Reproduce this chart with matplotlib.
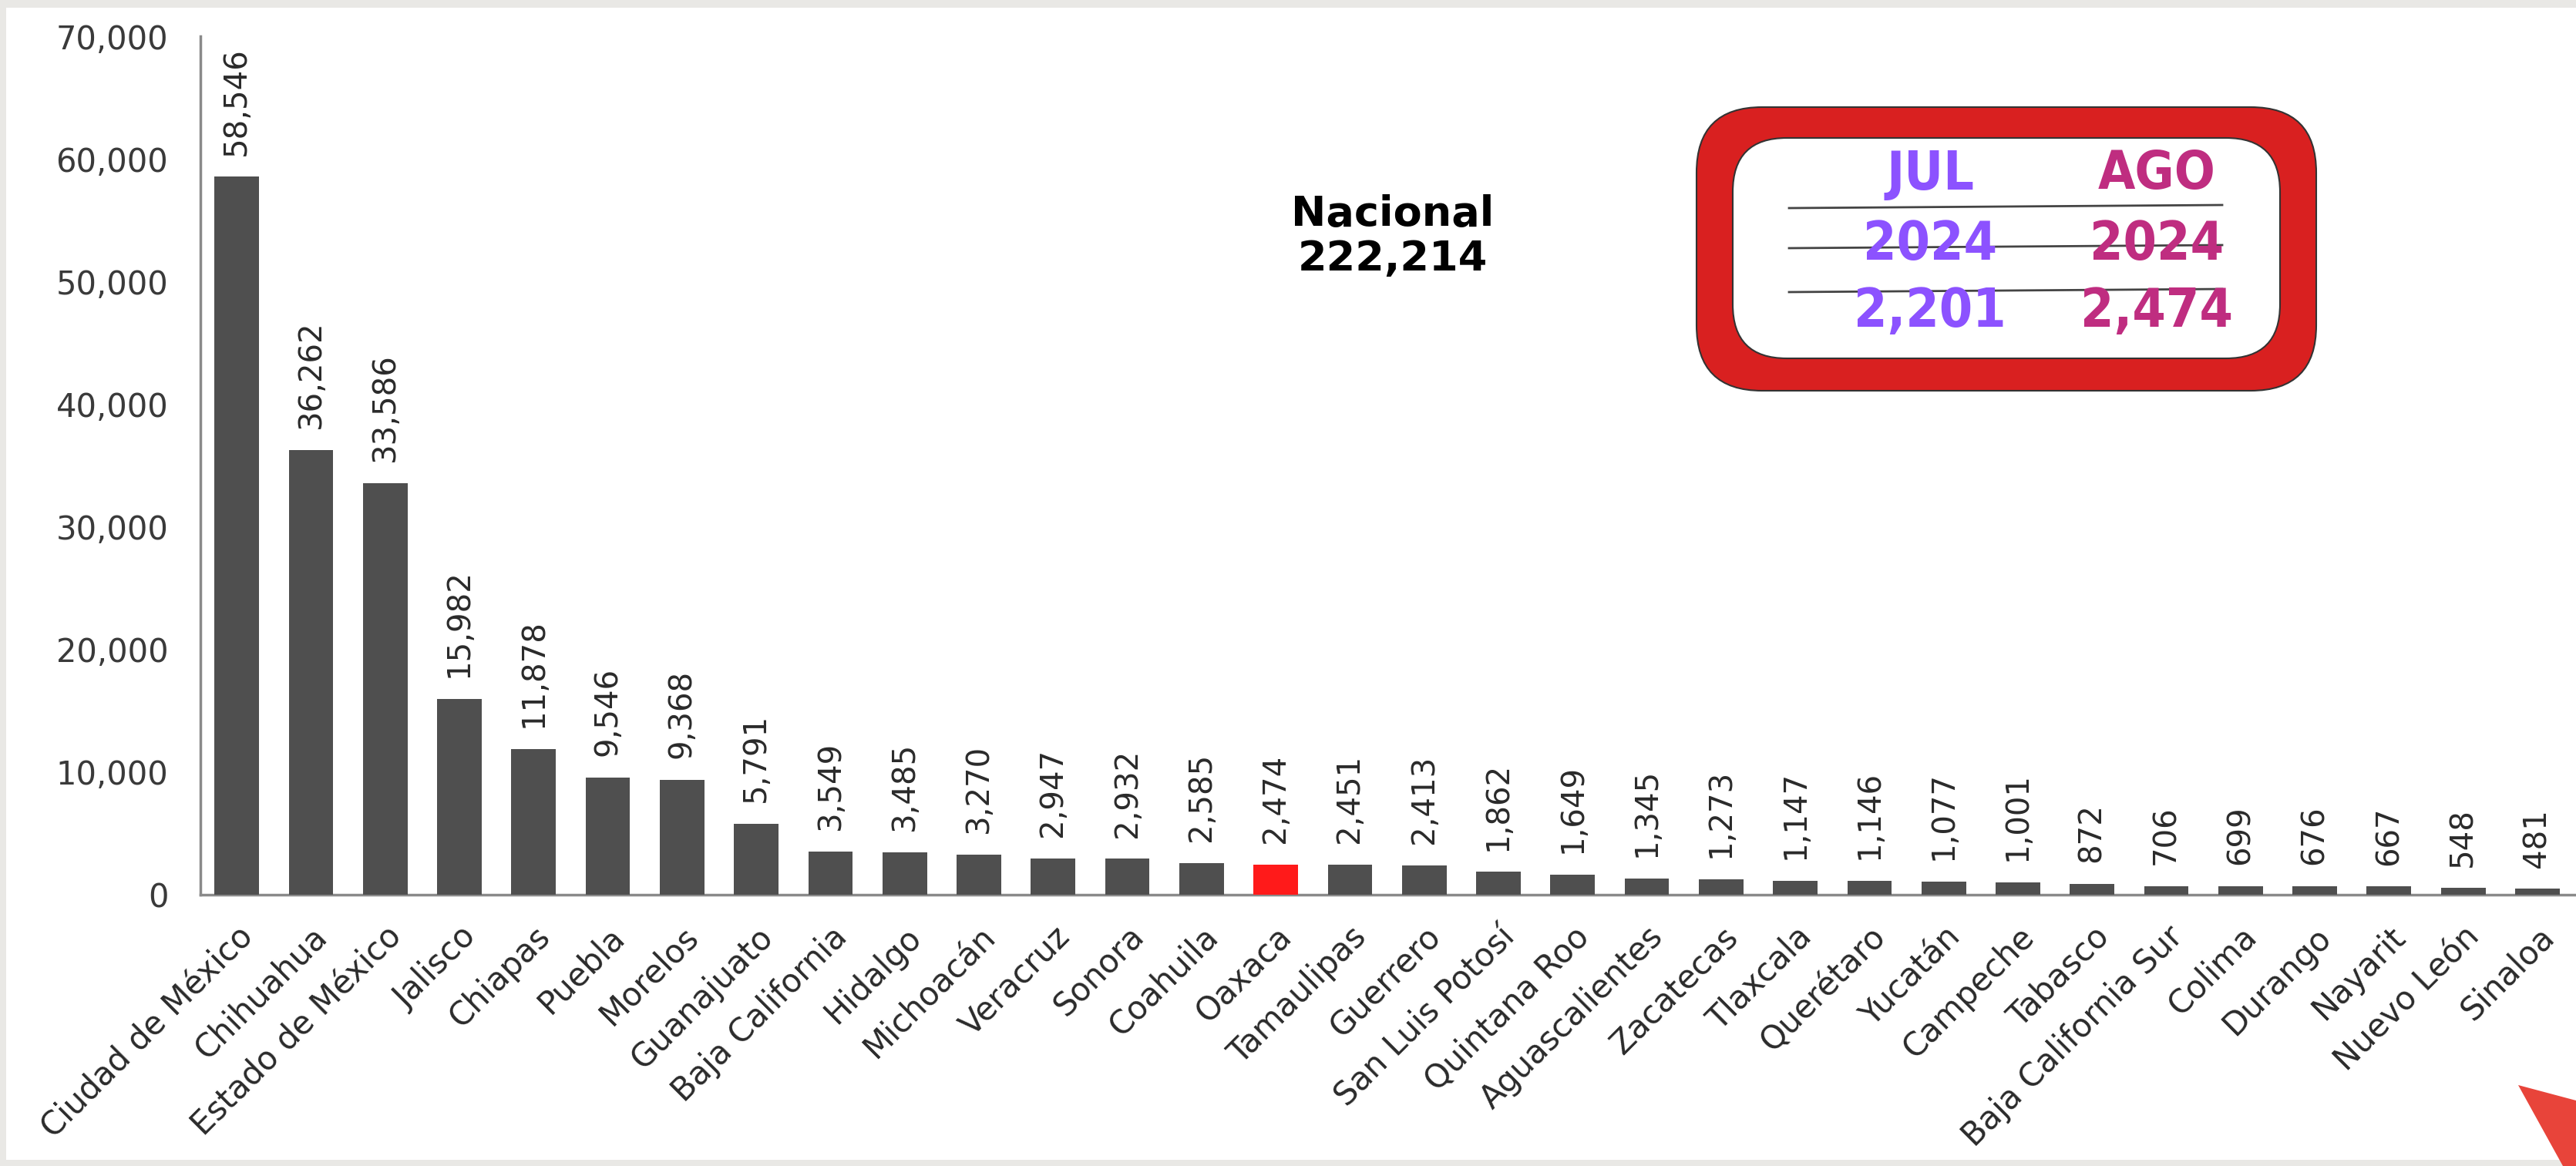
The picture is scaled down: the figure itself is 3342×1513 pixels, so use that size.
import matplotlib
matplotlib.use("Agg")
import matplotlib.pyplot as plt
from matplotlib import font_manager as fm
from matplotlib.patches import Rectangle, FancyBboxPatch, Polygon
from matplotlib.lines import Line2D

# ---------------- data ----------------
states = ["Ciudad de México", "Chihuahua", "Estado de México", "Jalisco", "Chiapas",
          "Puebla", "Morelos", "Guanajuato", "Baja California", "Hidalgo", "Michoacán",
          "Veracruz", "Sonora", "Coahuila", "Oaxaca", "Tamaulipas", "Guerrero",
          "San Luis Potosí", "Quintana Roo", "Aguascalientes", "Zacatecas", "Tlaxcala",
          "Querétaro", "Yucatán", "Campeche", "Tabasco", "Baja California Sur", "Colima",
          "Durango", "Nayarit", "Nuevo León", "Sinaloa"]
values = [58546, 36262, 33586, 15982, 11878, 9546, 9368, 5791, 3549, 3485, 3270,
          2947, 2932, 2585, 2474, 2451, 2413, 1862, 1649, 1345, 1273, 1147, 1146,
          1077, 1001, 872, 706, 699, 676, 667, 548, 481]
highlight = "Oaxaca"
yticks = [0, 10000, 20000, 30000, 40000, 50000, 60000, 70000]
national_label = "Nacional"
national_total = 222214
box_months = ["JUL", "AGO"]
box_years = ["2024", "2024"]
box_values = [2201, 2474]

# ---------------- condensed font lookup ----------------
cond = None
for f in fm.fontManager.ttflist:
    nm = f.name + " " + f.fname
    is_cond = ("Condensed" in nm or "Narrow" in nm or
               str(f.stretch) in ("condensed", "semi-condensed", "extra-condensed"))
    if is_cond and f.fname.lower().endswith((".ttf", ".otf")):
        score = 2 if ("Bold" in f.fname or str(f.weight) in ("700", "bold")) else 1
        if cond is None or score > cond[0]:
            cond = (score, f.fname)
if cond is not None:
    box_font = dict(fontproperties=fm.FontProperties(fname=cond[1], size=50))
else:
    box_font = dict(fontsize=46, fontweight="bold", family="DejaVu Sans")

# ---------------- figure ----------------
W, H = 3342, 1513
fig = plt.figure(figsize=(W / 100, H / 100), dpi=100)
fig.patch.set_facecolor("#e9e8e5")
inch = fig.dpi_scale_trans

# white panel
fig.patches.append(Rectangle((0.08, 0.08), (W - 8) / 100, (H - 18) / 100,
                             transform=inch, facecolor="white", edgecolor="none", zorder=-5))

ax = fig.add_axes([260 / W, 1 - 1161 / H, 1 - 260 / W, (1161 - 47) / H])
ax.set_zorder(1)
ax.set_facecolor("none")
x = list(range(len(states)))
colors = ["#ff1a1a" if s == highlight else "#4f4f4f" for s in states]
ax.bar(x, values, width=0.6, color=colors, zorder=3)
ax.set_xlim(-0.49, len(states) - 0.48)
ax.set_ylim(0, 70000)
ax.set_yticks(yticks)
ax.set_yticklabels([f"{v:,}" for v in yticks])
ax.set_xticks(x)
ax.set_xticklabels(states, rotation=45, ha="right", va="top", rotation_mode="anchor")
for sp in ["top", "right"]:
    ax.spines[sp].set_visible(False)
for sp in ["left", "bottom"]:
    ax.spines[sp].set_color("#8a8a8a")
    ax.spines[sp].set_linewidth(2.5)
ax.tick_params(axis="y", length=0, pad=30, labelsize=30, labelcolor="#3a3a3a")
ax.tick_params(axis="x", length=0, pad=24, labelsize=30, labelcolor="#2a2a2a")

for xi, v in zip(x, values):
    ax.annotate(f"{v:,}", (xi, v), xytext=(0, 20), textcoords="offset points",
                rotation=90, ha="center", va="bottom", fontsize=29, color="#2a2a2a")

# national total
fig.text(18.07, (H - 307) / 100, f"{national_label}\n{national_total:,}", transform=inch,
         ha="center", va="center", fontsize=39, fontweight="bold", color="black",
         linespacing=1.15, zorder=6)

# comparison box
fig.patches.append(FancyBboxPatch((22.01, 10.06), 30.05 - 22.01, 13.74 - 10.06,
                                  boxstyle="round,pad=0,rounding_size=0.85", transform=inch,
                                  facecolor="#d92020", edgecolor="#333333", lw=1.5, zorder=2))
fig.patches.append(FancyBboxPatch((22.48, 10.48), 29.58 - 22.48, 13.34 - 10.48,
                                  boxstyle="round,pad=0,rounding_size=0.7", transform=inch,
                                  facecolor="white", edgecolor="#333333", lw=1.5, zorder=3))
for y0 in [12.43, 11.91, 11.34]:
    fig.add_artist(Line2D([23.21, 28.83], [y0, y0 + 0.04], transform=inch,
                          color="#444444", lw=2, zorder=4))
col_x = [25.04, 27.98]
col_c = ["#8c52ff", "#bf2d80"]
for cx, c, m, yr, v in zip(col_x, col_c, box_months, box_years, box_values):
    for ty, s in [(12.87, m), (11.95, yr), (11.08, f"{v:,}")]:
        fig.text(cx, ty, s, transform=inch, ha="center", va="center", color=c,
                 zorder=5, **box_font)

# red decoration bottom right
fig.patches.append(Polygon([(32.67, (H - 1408) / 100), (33.42, (H - 1428) / 100),
                            (33.42, 0), (33.25, 0)], closed=True, transform=inch,
                           facecolor="#e8443a", edgecolor="none", zorder=5))

fig.savefig("out.png", dpi=100, facecolor=fig.get_facecolor())
